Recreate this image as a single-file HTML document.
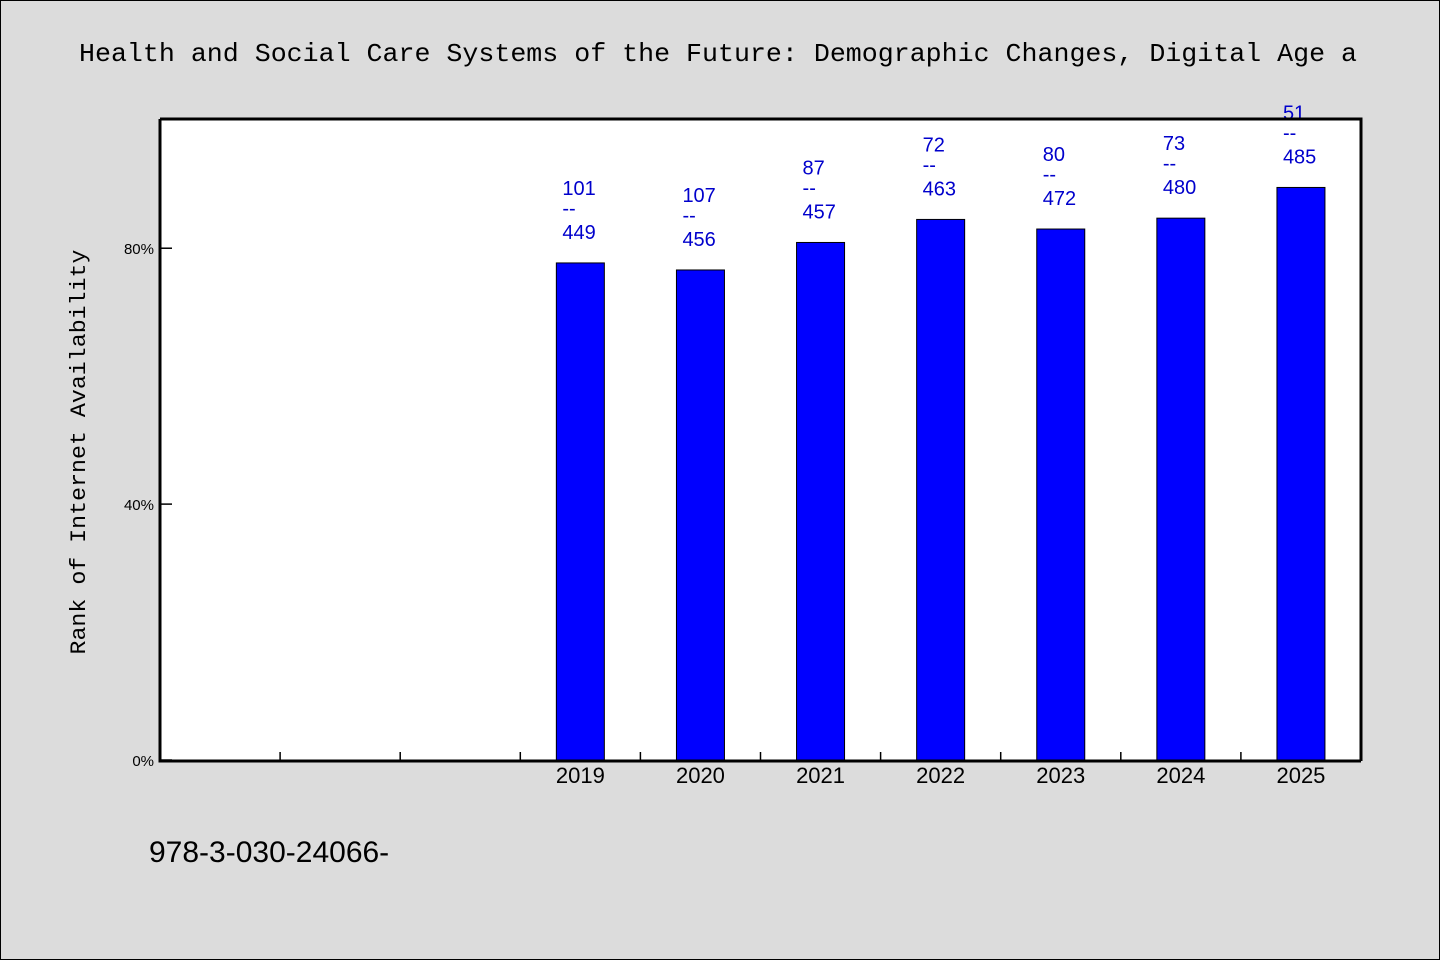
<!DOCTYPE html>
<html><head><meta charset="utf-8"><style>
html,body{margin:0;padding:0;background:#dcdcdc;}
svg{display:block;}
text{font-family:"Liberation Sans","WenQuanYi Zen Hei",sans-serif;}
.mono{font-family:"Liberation Mono","WenQuanYi Zen Hei",monospace;}
</style></head><body>
<svg id="chart" width="1440" height="960" xmlns="http://www.w3.org/2000/svg">
<rect x="0.5" y="0.5" width="1439" height="959" fill="#dcdcdc" stroke="#000"/>
<text class="mono" x="79" y="61" font-size="26" textLength="1278" lengthAdjust="spacingAndGlyphs">Health and Social Care Systems of the Future: Demographic Changes, Digital Age a</text>
<rect x="160" y="120" width="1201" height="640" fill="#fff"/>
<g id="grid"></g>
<g id="bars"></g>
<path d="M160,119 H1361 V761 M160,119 V761 H1361" fill="none" stroke="#000" stroke-width="3"/>
<text class="mono" transform="translate(85,452) rotate(-90)" text-anchor="middle" font-size="22" textLength="405" lengthAdjust="spacingAndGlyphs">Rank of Internet Availability</text>
<text x="149" y="862" font-size="30">978-3-030-24066-</text>
</svg>
<script>
const categories = ["", "", "", "2019", "2020", "2021", "2022", "2023", "2024", "2025"];
const values = [null, null, null, 77.7, 76.6, 80.9, 84.5, 83.0, 84.7, 89.5];
const labelTop = [null, null, null, "101", "107", "87", "72", "80", "73", "51"];
const labelBottom = [null, null, null, "449", "456", "457", "463", "472", "480", "485"];
const yTicks = [0, 40, 80];
const yTickLabels = ["0%", "40%", "80%"];

const NS = "http://www.w3.org/2000/svg";
const X0 = 160, X1 = 1361, Y0 = 760, Ymax = 100.2, Ytop = 119;
const slot = (X1 - X0) / categories.length;
function xc(i){ return X0 + slot * (i + 0.5); }
function y(v){ return Y0 - v / Ymax * (Y0 - Ytop); }
function mk(tag, attrs, parent){
  const e = document.createElementNS(NS, tag);
  for (const k in attrs) e.setAttribute(k, attrs[k]);
  parent.appendChild(e);
  return e;
}
const grid = document.getElementById("grid");
const bars = document.getElementById("bars");
yTicks.forEach((t, i) => {
  const ln = mk("line", {x1: X0, x2: X0 + 12, y1: y(t), y2: y(t), stroke: "#000", "stroke-width": 1.5}, grid);
  
  
  const tx = mk("text", {x: X0 - 6, y: y(t) + 6, "text-anchor": "end", "font-size": 15}, grid);
  tx.textContent = yTickLabels[i];
  
  
});
for (let i = 1; i < categories.length; i++) {
  const xx = X0 + slot * i;
  const ln = mk("line", {x1: xx, x2: xx, y1: Y0, y2: Y0 - 8, stroke: "#000", "stroke-width": 1.5}, grid);
  
  
}
categories.forEach((c, i) => {
  if (c) {
    const tx = mk("text", {x: xc(i), y: 783, "text-anchor": "middle", "font-size": 22}, grid);
    tx.textContent = c;
    
    
  }
  if (values[i] == null) return;
  const top = y(values[i]);
  const r = mk("rect", {x: xc(i) - 24, y: top, width: 48, height: Y0 - top, fill: "#0000ff", stroke: "#000", "stroke-width": 1}, bars);
  
  
  const lx = xc(i) - 18;
  const lines = [labelTop[i], "--", labelBottom[i]];
  lines.forEach((s, k) => {
    const t = mk("text", {x: lx, y: top - 68 + k * 22 + (k === 1 ? -2 : 0), "font-size": 20, fill: "#0000cc"}, bars);
    t.textContent = s;
    
    
  });
});
</script>
</body></html>
